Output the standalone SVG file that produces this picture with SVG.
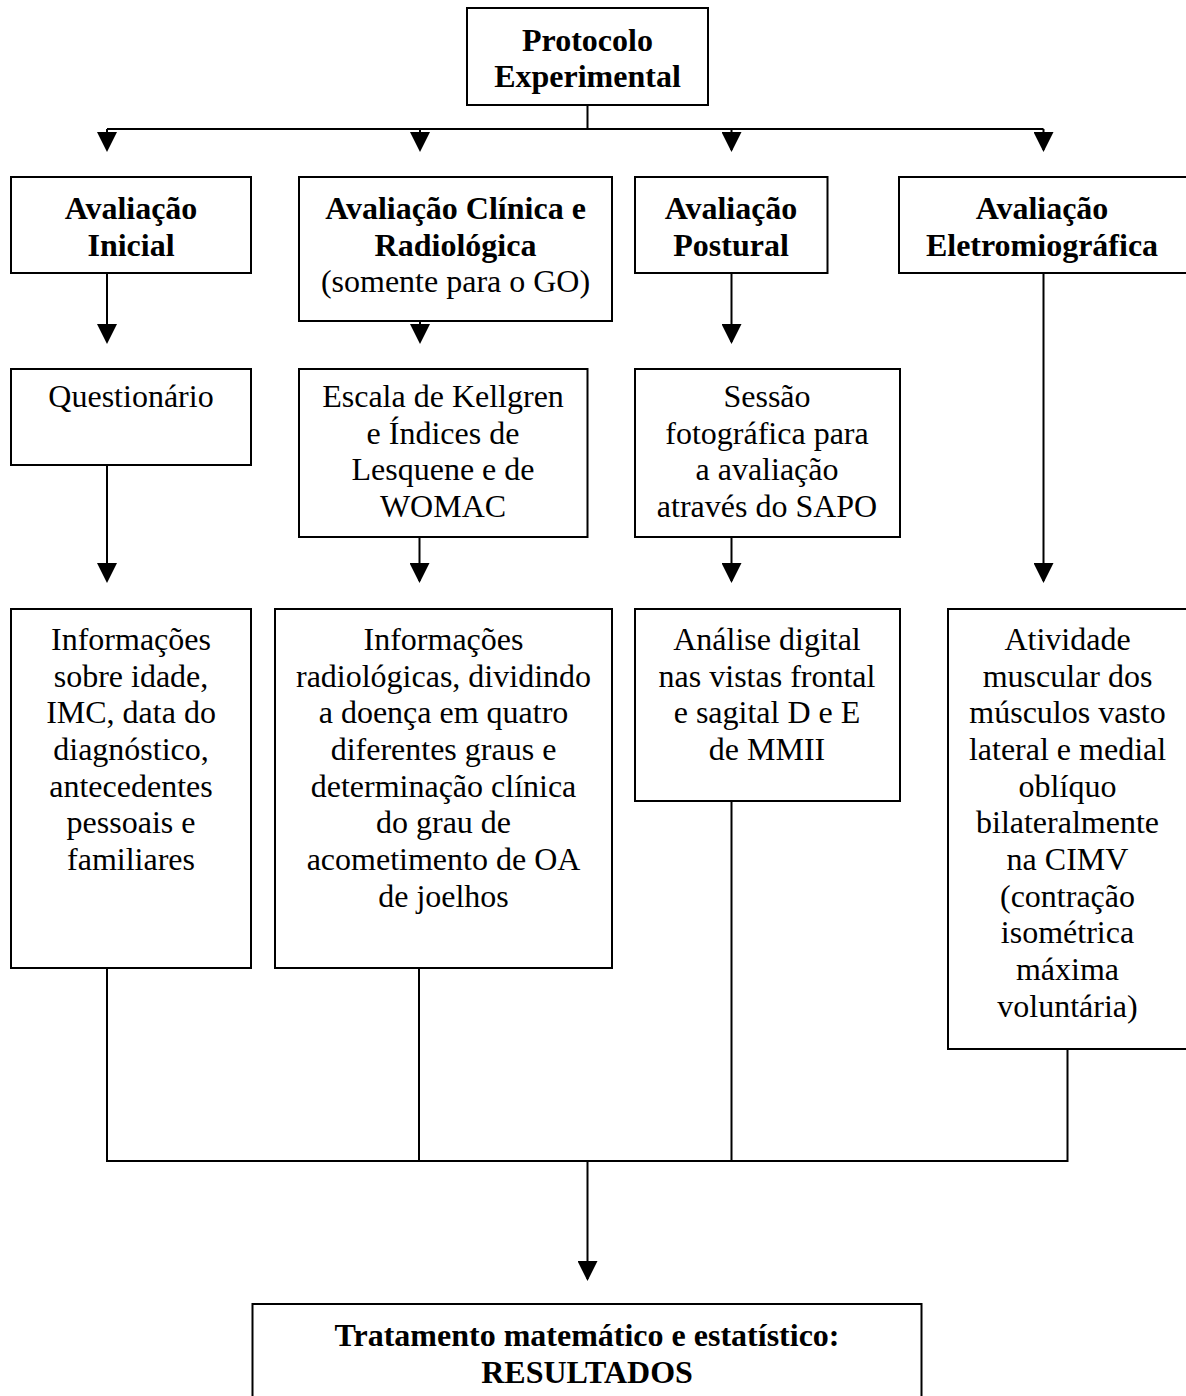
<svg xmlns="http://www.w3.org/2000/svg" width="1186" height="1396" viewBox="0 0 1186 1396">
<style>
.box{fill:#fff;stroke:#000;stroke-width:2}
.t{font-family:"Liberation Serif","Times New Roman",serif;font-size:32px;fill:#000;text-anchor:middle}
.b{font-weight:bold}
.c{fill:none;stroke:#000;stroke-width:2}
</style>
<defs>
<marker id="ah" markerUnits="userSpaceOnUse" markerWidth="20" markerHeight="20" viewBox="0 0 20 20" refX="18" refY="10" orient="auto">
<path d="M0,0 L20,10 L0,20 z" fill="#000"/>
</marker>
</defs>
<rect width="1186" height="1396" fill="#fff"/>
<g id="connectors">
<path class="c" d="M587.5 105 V129 M107 129 H1043.5"/>
<path class="c" d="M107 129 V150" marker-end="url(#ah)"/>
<path class="c" d="M420 129 V150" marker-end="url(#ah)"/>
<path class="c" d="M731.5 129 V150" marker-end="url(#ah)"/>
<path class="c" d="M1043.5 129 V150" marker-end="url(#ah)"/>
<path class="c" d="M107 273 V342" marker-end="url(#ah)"/>
<path class="c" d="M420 321 V342" marker-end="url(#ah)"/>
<path class="c" d="M731.5 273 V342" marker-end="url(#ah)"/>
<path class="c" d="M1043.5 273 V581" marker-end="url(#ah)"/>
<path class="c" d="M107 465 V581" marker-end="url(#ah)"/>
<path class="c" d="M419.5 537 V581" marker-end="url(#ah)"/>
<path class="c" d="M731.5 537 V581" marker-end="url(#ah)"/>
<path class="c" d="M107 968 V1161 H1067.5 V1049 M419 968 V1161 M731.5 801 V1161"/>
<path class="c" d="M587.5 1161 V1279" marker-end="url(#ah)"/>
</g>
<g id="protocolo">
<rect class="box" x="467" y="8" width="241" height="97"/>
<text class="t b" x="587.5" y="51">Protocolo</text>
<text class="t b" x="587.5" y="87">Experimental</text>
</g>
<g id="av-inicial">
<rect class="box" x="11" y="177" width="240" height="96"/>
<text class="t b" x="131" y="219">Avaliação</text>
<text class="t b" x="131" y="255.7">Inicial</text>
</g>
<g id="av-clinica">
<rect class="box" x="299" y="177" width="313" height="144"/>
<text class="t b" x="455.5" y="219">Avaliação Clínica e</text>
<text class="t b" x="455.5" y="255.7">Radiológica</text>
<text class="t" x="455.5" y="292.3">(somente para o GO)</text>
</g>
<g id="av-postural">
<rect class="box" x="635" y="177" width="192.5" height="96"/>
<text class="t b" x="731" y="219">Avaliação</text>
<text class="t b" x="731" y="255.7">Postural</text>
</g>
<g id="av-eletro">
<rect class="box" x="899" y="177" width="289" height="96"/>
<text class="t b" x="1042" y="219">Avaliação</text>
<text class="t b" x="1042" y="255.7">Eletromiográfica</text>
</g>
<g id="questionario">
<rect class="box" x="11" y="369" width="240" height="96"/>
<text class="t" x="131" y="407">Questionário</text>
</g>
<g id="escala">
<rect class="box" x="299" y="369" width="288.5" height="168"/>
<text class="t" x="443" y="407">Escala de Kellgren</text>
<text class="t" x="443" y="443.7">e Índices de</text>
<text class="t" x="443" y="480.3">Lesquene e de</text>
<text class="t" x="443" y="517">WOMAC</text>
</g>
<g id="sessao">
<rect class="box" x="635" y="369" width="265" height="168"/>
<text class="t" x="767" y="407">Sessão</text>
<text class="t" x="767" y="443.7">fotográfica para</text>
<text class="t" x="767" y="480.3">a avaliação</text>
<text class="t" x="767" y="517">através do SAPO</text>
</g>
<g id="info-inicial">
<rect class="box" x="11" y="609" width="240" height="359"/>
<text class="t" x="131" y="650">Informações</text>
<text class="t" x="131" y="686.7">sobre idade,</text>
<text class="t" x="131" y="723.3">IMC, data do</text>
<text class="t" x="131" y="760">diagnóstico,</text>
<text class="t" x="131" y="796.7">antecedentes</text>
<text class="t" x="131" y="833.3">pessoais e</text>
<text class="t" x="131" y="870">familiares</text>
</g>
<g id="info-radiologicas">
<rect class="box" x="275" y="609" width="337" height="359"/>
<text class="t" x="443.5" y="650">Informações</text>
<text class="t" x="443.5" y="686.7">radiológicas, dividindo</text>
<text class="t" x="443.5" y="723.3">a doença em quatro</text>
<text class="t" x="443.5" y="760">diferentes graus e</text>
<text class="t" x="443.5" y="796.7">determinação clínica</text>
<text class="t" x="443.5" y="833.3">do grau de</text>
<text class="t" x="443.5" y="870">acometimento de OA</text>
<text class="t" x="443.5" y="906.7">de joelhos</text>
</g>
<g id="analise-digital">
<rect class="box" x="635" y="609" width="265" height="192"/>
<text class="t" x="767" y="650">Análise digital</text>
<text class="t" x="767" y="686.7">nas vistas frontal</text>
<text class="t" x="767" y="723.3">e sagital D e E</text>
<text class="t" x="767" y="760">de MMII</text>
</g>
<g id="atividade-muscular">
<rect class="box" x="948" y="609" width="240" height="440"/>
<text class="t" x="1067.5" y="650">Atividade</text>
<text class="t" x="1067.5" y="686.7">muscular dos</text>
<text class="t" x="1067.5" y="723.3">músculos vasto</text>
<text class="t" x="1067.5" y="760">lateral e medial</text>
<text class="t" x="1067.5" y="796.7">oblíquo</text>
<text class="t" x="1067.5" y="833.3">bilateralmente</text>
<text class="t" x="1067.5" y="870">na CIMV</text>
<text class="t" x="1067.5" y="906.7">(contração</text>
<text class="t" x="1067.5" y="943.3">isométrica</text>
<text class="t" x="1067.5" y="980">máxima</text>
<text class="t" x="1067.5" y="1016.7">voluntária)</text>
</g>
<g id="resultados">
<rect class="box" x="252.5" y="1304" width="669" height="120"/>
<text class="t b" x="587" y="1346">Tratamento matemático e estatístico:</text>
<text class="t b" x="587" y="1382.7">RESULTADOS</text>
</g>
</svg>
